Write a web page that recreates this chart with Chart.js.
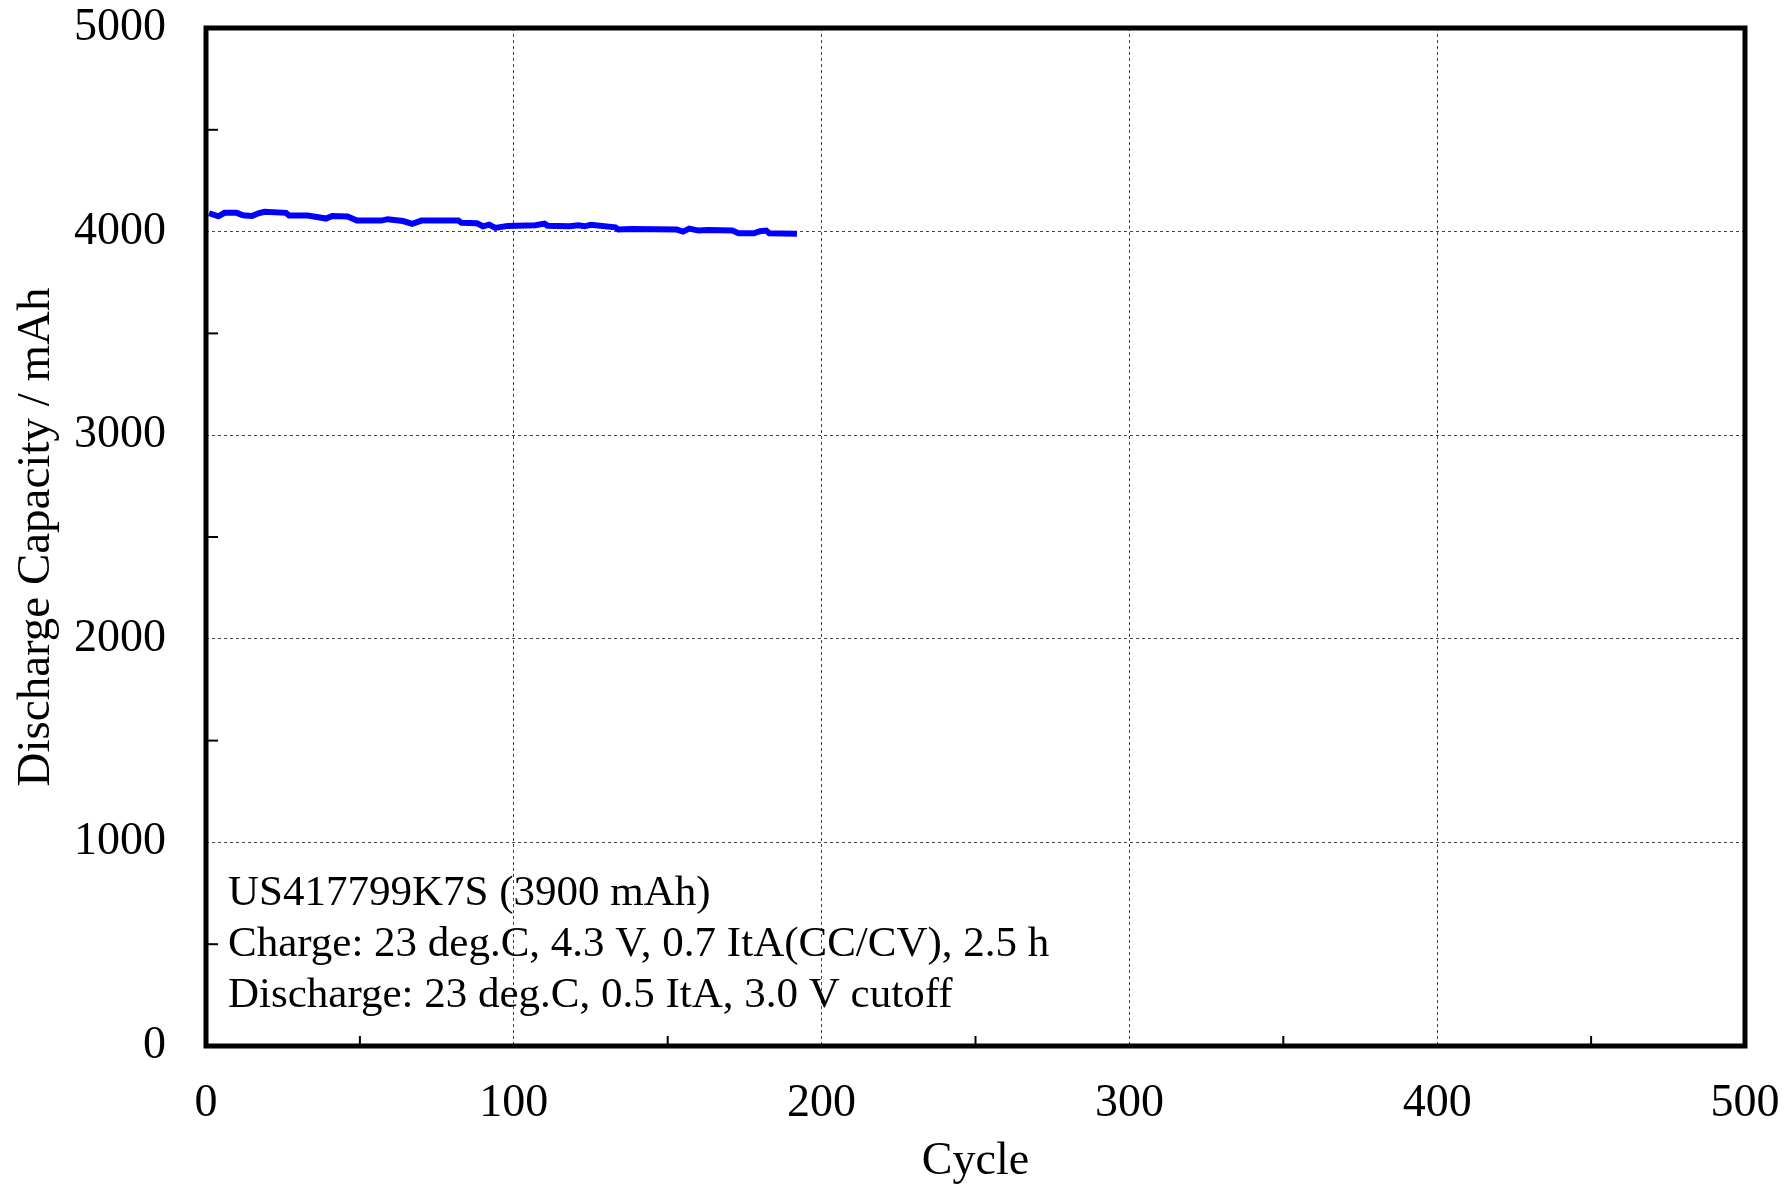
<!DOCTYPE html>
<html>
<head>
<meta charset="utf-8">
<script src="https://cdn.jsdelivr.net/npm/chart.js@4.4.0/dist/chart.umd.min.js"></script>
<style>
  html, body { margin: 0; padding: 0; background: #fff; }
  canvas { display: block; }
</style>
</head>
<body>
<canvas id="chart" width="1785" height="1190"></canvas>
<script>
// data
const cycles = [1, 4, 6, 10, 12, 15, 17, 19, 26, 27, 33, 36, 39, 41, 46, 49, 57, 59, 64, 67,
                70, 82, 83, 88, 90, 92, 94, 98, 107, 110, 111, 118, 121, 123, 125, 133, 134, 138,
                153, 155, 157, 160, 163, 171, 173, 178, 180, 182, 183, 192];
const capacity = [4090, 4075, 4092, 4092, 4080, 4077, 4090, 4097, 4092, 4079, 4079, 4072, 4064, 4077,
                  4074, 4054, 4054, 4061, 4052, 4038, 4054, 4054, 4043, 4041, 4026, 4034, 4018, 4028,
                  4031, 4039, 4029, 4026, 4031, 4026, 4033, 4021, 4010, 4013, 4010, 4000, 4015, 4005,
                  4008, 4005, 3992, 3992, 4002, 4005, 3992, 3989];
const notes = [
    'US417799K7S (3900 mAh)',
    'Charge: 23 deg.C, 4.3 V, 0.7 ItA(CC/CV), 2.5 h',
    'Discharge: 23 deg.C, 0.5 ItA, 3.0 V cutoff'
];
const xLabel = 'Cycle';
const yLabel = 'Discharge Capacity / mAh';

const FONT = '"Liberation Serif", "Times New Roman", serif';

// frame, inward minor ticks and the note text
const framePlugin = {
    id: 'frame',
    afterDraw(chart) {
        const { ctx, chartArea: a, scales } = chart;
        ctx.save();
        ctx.strokeStyle = '#000';
        ctx.lineWidth = 2;
        // minor ticks pointing inward
        for (let v = 50; v < 500; v += 100) {
            const x = scales.x.getPixelForValue(v);
            ctx.beginPath();
            ctx.moveTo(x, a.bottom);
            ctx.lineTo(x, a.bottom - 10);
            ctx.stroke();
        }
        for (let v = 500; v < 5000; v += 1000) {
            const y = scales.y.getPixelForValue(v);
            ctx.beginPath();
            ctx.moveTo(a.left, y);
            ctx.lineTo(a.left + 12, y);
            ctx.stroke();
        }
        ctx.lineWidth = 5;
        ctx.strokeRect(a.left, a.top, a.right - a.left, a.bottom - a.top);

        ctx.fillStyle = '#000';
        ctx.font = '43px ' + FONT;
        ctx.textAlign = 'left';
        ctx.textBaseline = 'alphabetic';
        notes.forEach((t, i) => {
            ctx.fillText(t, a.left + 22, a.bottom - 141 + i * 51);
        });
        ctx.restore();
    }
};

new Chart(document.getElementById('chart'), {
    type: 'line',
    data: {
        datasets: [{
            data: cycles.map((c, i) => ({ x: c, y: capacity[i] })),
            borderColor: '#0000ff',
            borderWidth: 6,
            pointRadius: 0,
            tension: 0,
            fill: false
        }]
    },
    options: {
        responsive: false,
        animation: false,
        devicePixelRatio: 1,
        layout: { padding: { top: 28, right: 40, left: 0, bottom: 0 } },
        plugins: {
            legend: { display: false },
            tooltip: { enabled: false }
        },
        scales: {
            x: {
                type: 'linear',
                min: 0,
                max: 500,
                afterFit: s => {
                    s.height = 144;
                    s.paddingLeft = 0;
                    s.paddingRight = 0;
                },
                ticks: {
                    stepSize: 50,
                    autoSkip: false,
                    maxRotation: 0,
                    padding: 30,
                    color: '#000',
                    font: { family: FONT, size: 46 },
                    callback: v => (v % 100 === 0 ? v : '')
                },
                grid: {
                    drawTicks: false,
                    lineWidth: 1,
                    color: c => (c.tick && c.tick.value % 100 === 0 ? '#444' : 'rgba(0,0,0,0)')
                },
                border: { display: false, dash: [3, 3] },
                title: {
                    display: true,
                    text: xLabel,
                    color: '#000',
                    font: { family: FONT, size: 46 },
                    padding: { top: 0, bottom: 0 }
                }
            },
            y: {
                min: 0,
                max: 5000,
                afterFit: s => {
                    s.width = 206;
                    s.paddingTop = 0;
                    s.paddingBottom = 0;
                },
                ticks: {
                    stepSize: 500,
                    autoSkip: false,
                    padding: 40,
                    color: '#000',
                    font: { family: FONT, size: 46 },
                    callback: v => (v % 1000 === 0 ? v : '')
                },
                grid: {
                    drawTicks: false,
                    lineWidth: 1,
                    color: c => (c.tick && c.tick.value % 1000 === 0 ? '#444' : 'rgba(0,0,0,0)')
                },
                border: { display: false, dash: [3, 3] },
                title: {
                    display: true,
                    text: yLabel,
                    color: '#000',
                    font: { family: FONT, size: 47 },
                    padding: { top: 8, bottom: 0 }
                }
            }
        }
    },
    plugins: [framePlugin]
});
</script>
</body>
</html>
